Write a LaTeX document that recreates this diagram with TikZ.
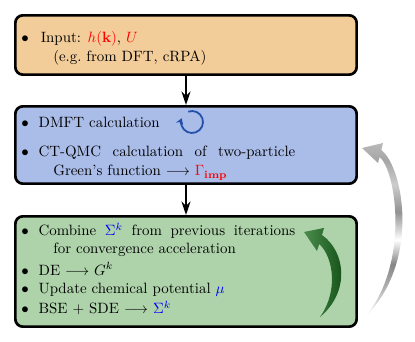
\documentclass[tikz,border=0pt]{standalone}
\usepackage{xcolor}
\usetikzlibrary{arrows.meta}
\definecolor{inputorange}{RGB}{242, 205, 153}
\definecolor{dmftblue}{RGB}{170, 188, 232}
\definecolor{loopgreen}{RGB}{174, 211, 170}
\definecolor{cycleblue}{RGB}{35, 80, 170}
\definecolor{leafgreen}{RGB}{75, 140, 75}
\definecolor{deepgreen}{RGB}{12, 72, 16}

% metallic bands for the return arrow
\pgfdeclareverticalshading{steelfade}{100bp}{color(0bp)=(white); color(25bp)=(white);
  color(33bp)=(gray!60); color(40bp)=(gray!95); color(47bp)=(white);
  color(55bp)=(gray!85); color(63bp)=(gray!40); color(70bp)=(gray!70);
  color(75bp)=(gray!55); color(100bp)=(gray!55)}

\newcommand{\spreadline}[1]{\makebox[172pt][s]{#1}}

\begin{document}
\begin{tikzpicture}[x=0.67pt, y=-0.67pt,
    stage/.style={draw, line width=1.8pt, rounded corners=5pt,
      minimum width=341.3*0.67pt, inner sep=0pt},
    dot/.style={anchor=base, inner sep=0pt},
    textline/.style={anchor=base west, inner sep=0pt},
    flow/.style={-{Stealth[length=9pt, width=6pt]}, line width=1.6pt}]
    \useasboundingbox (0,0) rectangle (415,342);

    % the three stages
    \node[stage, fill=inputorange, minimum height=59.3*0.67pt] (input) at (186,45) {};
    \node[stage, fill=dmftblue, minimum height=77.3*0.67pt] (dmft) at (186,145) {};
    \node[stage, fill=loopgreen, minimum height=110.3*0.67pt] (update) at (186,271.5) {};

    \draw[flow] (input) -- (dmft);
    \draw[flow] (dmft) -- (update);

    % input
    \node[dot] (d1) at (25,42.5) {$\bullet$};
    \node[textline] (t1) at (40.5,42.5)
        {Input: \textcolor{red}{$h(\mathbf{k})$}, \textcolor{red}{$U$}};
    \node[textline] (t1b) at (53,62) {(e.g.\ from DFT, cRPA)};

    % dmft
    \node[dot] (d2) at (25,127.3) {$\bullet$};
    \node[textline] (t2) at (38.3,127.3) {DMFT calculation};
    \coordinate (loopc) at (192,122);
    \draw[cycleblue, line width=1.2pt, -{Stealth[length=4pt, width=5pt]}]
        (loopc) ++(-110:11) arc[start angle=-110, end angle=200, radius=11];
    \node[dot] (d3) at (25,156.7) {$\bullet$};
    \node[textline] (t3) at (38.3,156.7) {\spreadline{CT-QMC calculation of two-particle}};
    \node[textline] (t3b) at (53,176)
        {Green's function $\longrightarrow$ \textcolor{red}{$\Gamma_{\mathbf{imp}}$}};

    % update loop
    \node[dot] (d4) at (25,236) {$\bullet$};
    \node[textline] (t4) at (38.3,236)
        {\spreadline{Combine \textcolor{blue}{$\Sigma^k$} from previous iterations}};
    \node[textline] (t4b) at (53,254) {for convergence acceleration};
    \node[dot] (d5) at (25,275) {$\bullet$};
    \node[textline] (t5) at (38.3,275) {DE $\longrightarrow$ $G^k$};
    \node[dot] (d6) at (25,294) {$\bullet$};
    \node[textline] (t6) at (38.3,294) {Update chemical potential \textcolor{blue}{$\mu$}};
    \node[dot] (d7) at (25,314) {$\bullet$};
    \node[textline] (t7) at (38.3,314)
        {BSE + SDE $\longrightarrow$ \textcolor{blue}{$\Sigma^k$}};

    % inner loop arrow
    \shade[left color=leafgreen, right color=deepgreen]
        (322,235) -- (324,228) -- (304,232) -- (317,251) -- (319.3,244)
        .. controls (334,258) and (338,292) .. (320,317)
        .. controls (350,292) and (346,252) .. cycle;

    % outer loop arrow
    \shade[shading=steelfade]
        (381.3,150) -- (383,143) -- (362,148) -- (378,163) -- (379.5,157)
        .. controls (396,170) and (410,262) .. (366,316)
        .. controls (420,262) and (404,168) .. cycle;
\end{tikzpicture}
\end{document}
